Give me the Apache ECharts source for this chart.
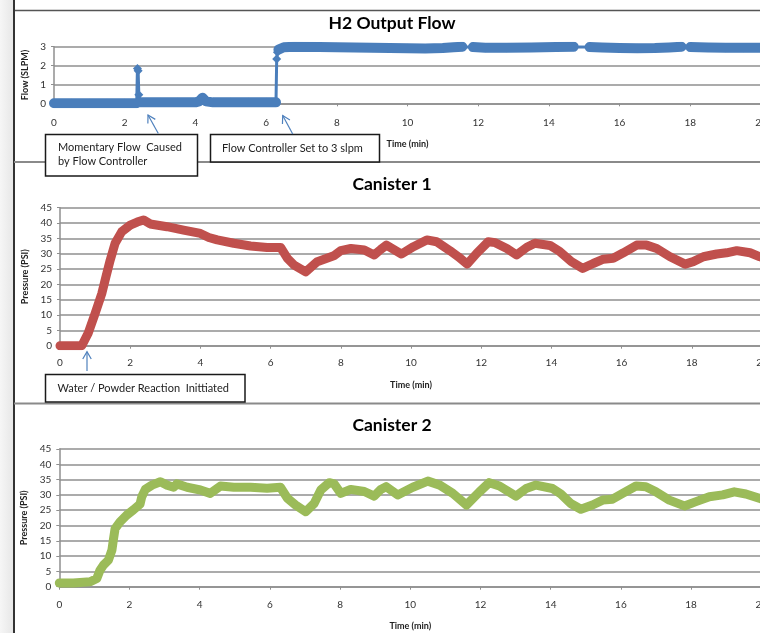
<!DOCTYPE html>
<html>
<head>
<meta charset="utf-8">
<script src="https://cdn.jsdelivr.net/npm/echarts@6/dist/echarts.min.js"></script>
<style>
html,body{margin:0;padding:0;background:#fff;}
#chart{width:760px;height:633px;}
</style>
</head>
<body>
<div id="chart"></div>
<script>
// ---------- DATA ----------
const titles = ['H2 Output Flow', 'Canister 1', 'Canister 2'];
const xTickLabels = [0, 2, 4, 6, 8, 10, 12, 14, 16, 18, 20];
const flowTicks = [0, 1, 2, 3];
const pressureTicks = [0, 5, 10, 15, 20, 25, 30, 35, 40, 45];

const flowTime = [0, 0.5, 1, 1.5, 2, 2.34, 2.36, 2.38, 2.40, 2.43,
  3, 3.5, 4, 4.1, 4.2, 4.3, 4.5,
  5, 5.5, 6, 6.28, 6.30, 6.32, 6.35, 6.5, 6.8,
  7.5, 8, 8.5, 9, 9.5, 10, 10.5, 11, 11.3, 11.55,
  11.85, 12.2, 12.8, 13.5, 14.2, 14.7,
  15.15, 15.5, 16, 16.5, 17, 17.4, 17.75,
  18.0, 18.5, 19, 19.5, 20];
const flowValue = [0, 0, 0, 0, 0, 0, 1.85, 1.72, 0.45, 0.05,
  0.05, 0.05, 0.05, 0.1, 0.3, 0.1, 0.05,
  0.05, 0.05, 0.05, 0.05, 2.35, 2.7, 2.85, 2.97, 3.0,
  2.99, 2.97, 2.96, 2.95, 2.93, 2.92, 2.9, 2.93, 2.97, 3.0,
  2.98, 2.95, 2.95, 2.96, 2.98, 3.0,
  2.98, 2.96, 2.93, 2.92, 2.93, 2.96, 3.0,
  2.98, 2.96, 2.95, 2.95, 2.95];
// time spans where the flow trace has only sparse samples (thin line)
const flowSparseSpans = [[2.35, 2.42], [6.29, 6.34], [11.56, 11.84], [14.71, 15.14], [17.76, 17.99]];

const can1Time = [0, 0.3, 0.62, 0.8, 1.0, 1.19, 1.31, 1.43, 1.57, 1.76, 2.0, 2.2, 2.38, 2.57,
  3.05, 3.52, 4.0, 4.24, 4.48, 4.95, 5.43, 5.9, 6.29, 6.48, 6.67, 7.0, 7.33, 7.8, 8.0,
  8.29, 8.67, 8.95, 9.14, 9.3, 9.73, 10.07, 10.45, 10.73, 11.11, 11.35, 11.6, 11.87,
  12.2, 12.4, 12.73, 13.01, 13.3, 13.53, 13.96, 14.24, 14.57, 14.89, 15.19, 15.48,
  15.76, 16.05, 16.43, 16.71, 17.0, 17.38, 17.81, 18.04, 18.33, 18.71, 18.99, 19.28,
  19.66, 19.94, 20];
const can1Value = [0, 0, 0, 4, 10.5, 17, 22.5, 27.9, 33.4, 37.2, 39.3, 40.3, 41, 39.7,
  38.8, 37.7, 36.6, 35.3, 34.5, 33.4, 32.5, 32, 32, 28.5, 26.3, 24.1, 27.4, 29.3, 31,
  31.7, 31.2, 29.6, 31.4, 32.8, 29.9, 32.3, 34.5, 33.9, 31, 29, 26.6, 30.1,
  33.9, 33.6, 31.7, 29.6, 32.1, 33.4, 32.7, 30.7, 27.4, 25.2, 26.8, 28.2,
  28.5, 30.3, 32.8, 32.8, 31.7, 29, 26.6, 27.4, 29, 29.9, 30.3, 31,
  30.3, 29, 28.8];

const can2Time = [0, 0.4, 0.88, 1.07, 1.16, 1.26, 1.4, 1.5, 1.54, 1.59, 1.73, 1.92, 2.11, 2.3,
  2.35, 2.45, 2.64, 2.88, 3.07, 3.26, 3.35, 3.64, 4.02, 4.3, 4.59, 4.97, 5.45, 5.92, 6.3,
  6.5, 6.73, 7.02, 7.26, 7.45, 7.69, 7.83, 8.02, 8.3, 8.69, 8.97, 9.16, 9.31, 9.64,
  10.07, 10.5, 10.84, 11.21, 11.6, 11.97, 12.25, 12.54, 13.01, 13.3, 13.58, 14.05,
  14.29, 14.57, 14.86, 15.19, 15.48, 15.76, 16.05, 16.43, 16.71, 17.0, 17.38, 17.81,
  18.14, 18.52, 18.9, 19.23, 19.56, 19.94, 20];
const can2Value = [1.2, 1.2, 1.6, 2.7, 5.4, 7.1, 8.7, 12, 15.3, 19, 21.2, 23.4, 25.1, 27,
  29.4, 31.8, 33.2, 34.3, 33.2, 32.5, 33.6, 32.5, 31.6, 30.5, 32.9, 32.5, 32.5, 32.2, 32.5,
  28.9, 26.7, 24.5, 27.2, 31.6, 34, 33.6, 30.5, 31.8, 31.1, 29.6, 31.8, 32.7, 30,
  32.5, 34.5, 33.2, 30.5, 26.7, 31, 34, 32.9, 29.6, 32.1, 33.2, 32.1,
  30.3, 27.2, 25.3, 26.7, 28.3, 28.6, 30.5, 32.9, 32.7, 31, 28.3, 26.4,
  27.8, 29.4, 30, 31, 30.3, 28.9, 28.7];

// ---------- BUILD ----------
const pairs = (t, v) => t.map((x, i) => [x, v[i]]);
function denseData(t, v, spans) {
  const items = [];
  t.forEach((x, i) => {
    if (!spans.some(s => x > s[0] && x < s[1])) items.push([x, v[i]]);
  });
  spans.forEach(s => items.push([(s[0] + s[1]) / 2, '-']));
  items.sort((a, b) => a[0] - b[0]);
  return items;
}

const FONT = 'Lato, "Open Sans", sans-serif';
const GRID_COLOR = '#8f8f8f';
const BLUE = '#4A7EBB', RED = '#C0504D', GREEN = '#9BBB59';

const grids = [
  {left: 54, top: 46.7, width: 707, height: 56.6, outerBoundsMode: 'none', containLabel: false},
  {left: 60, top: 207.7, width: 702, height: 138, outerBoundsMode: 'none', containLabel: false},
  {left: 59.3, top: 449, width: 702, height: 137.7, outerBoundsMode: 'none', containLabel: false}
];
const xNameGap = [36, 35, 35];
const yNameGap = [23, 29, 29];
const xLabelMargin = [14, 12, 13];

const xAxes = grids.map((g, i) => ({
  type: 'value', gridIndex: i, min: xTickLabels[0], max: xTickLabels[xTickLabels.length - 1],
  interval: 2,
  name: 'Time (min)', nameLocation: 'middle', nameGap: xNameGap[i],
  nameTextStyle: {fontFamily: FONT, fontSize: 9, fontWeight: 'bold', color: '#222'},
  axisLine: {show: true, onZero: false, lineStyle: {color: GRID_COLOR, width: 1.5}},
  axisTick: {show: true, length: 3, lineStyle: {color: GRID_COLOR, width: 1}},
  axisLabel: {fontFamily: FONT, fontSize: 10, color: '#333', margin: xLabelMargin[i],
    showMaxLabel: true, hideOverlap: false},
  splitLine: {show: false}
}));

const yAxes = grids.map((g, i) => {
  const ticks = i === 0 ? flowTicks : pressureTicks;
  return {
    type: 'value', gridIndex: i, min: ticks[0], max: ticks[ticks.length - 1],
    interval: ticks[1] - ticks[0],
    name: i === 0 ? 'Flow (SLPM)' : 'Pressure (PSI)', nameLocation: 'middle', nameGap: yNameGap[i],
    nameTextStyle: {fontFamily: FONT, fontSize: 9, fontWeight: 'bold', color: '#222'},
    axisLine: {show: true, lineStyle: {color: GRID_COLOR, width: 1.5}},
    axisTick: {show: true, length: 3, lineStyle: {color: GRID_COLOR, width: 1}},
    axisLabel: {fontFamily: FONT, fontSize: 10, color: '#333', margin: 8},
    splitLine: {show: true, lineStyle: {color: GRID_COLOR, width: 1.5}}
  };
});

const titleTops = [9, 170, 411];
const title = titles.map((t, i) => ({
  text: t, left: 387, top: titleTops[i], textAlign: 'center',
  textStyle: {fontFamily: FONT, fontSize: 17.5, fontWeight: 'bold', color: '#000'}
}));

const arrowStyle = {stroke: '#4F81BD', lineWidth: 1.2, fill: null};
function arrow(tip, tail) {
  const dx = tail[0] - tip[0], dy = tail[1] - tip[1];
  const ang = Math.atan2(dy, dx), L = 8.5, a = Math.PI / 6;
  const p1 = [tip[0] + L * Math.cos(ang - a), tip[1] + L * Math.sin(ang - a)];
  const p2 = [tip[0] + L * Math.cos(ang + a), tip[1] + L * Math.sin(ang + a)];
  return [
    {type: 'polyline', z: 20, shape: {points: [tail, tip]}, style: arrowStyle},
    {type: 'polyline', z: 20, shape: {points: [p1, tip, p2]}, style: arrowStyle}
  ];
}
function box(x, y, w, h, text, tx, ty) {
  return [
    {type: 'rect', z: 20, shape: {x: x, y: y, width: w, height: h},
      style: {fill: '#fff', stroke: '#1a1a1a', lineWidth: 1.5}},
    {type: 'text', z: 21, x: tx, y: ty,
      style: {text: text, fontFamily: FONT, fontSize: 11, fill: '#222', lineHeight: 13.5,
        textVerticalAlign: 'top'}}
  ];
}

const graphic = [
  {type: 'rect', z: -10, shape: {x: 0, y: 0, width: 14, height: 633},
    style: {fill: new echarts.graphic.LinearGradient(0, 0, 1, 0, [
      {offset: 0, color: '#f6f6f6'}, {offset: 1, color: '#e6e6e6'}])}},
  {type: 'line', z: 5, shape: {x1: 14, y1: 10.5, x2: 760, y2: 10.5}, style: {stroke: '#555', lineWidth: 1.5}},
  {type: 'line', z: 5, shape: {x1: 14, y1: 0, x2: 14, y2: 633}, style: {stroke: '#333', lineWidth: 2}},
  {type: 'line', z: 5, shape: {x1: 14, y1: 162, x2: 760, y2: 162}, style: {stroke: '#8a8a8a', lineWidth: 2}},
  {type: 'line', z: 5, shape: {x1: 14, y1: 403.5, x2: 760, y2: 403.5}, style: {stroke: '#8a8a8a', lineWidth: 2}},
  ...box(45.5, 134.5, 152, 41.5, 'Momentary Flow  Caused\nby Flow Controller', 58, 141),
  ...box(210.5, 134.5, 169, 27.5, 'Flow Controller Set to 3 slpm', 222, 142),
  ...box(45.5, 374.5, 199.5, 27.5, 'Water / Powder Reaction  Inittiated', 57.5, 382),
  ...arrow([148, 115], [158.3, 133.5]),
  ...arrow([282.7, 115.5], [292.7, 134]),
  ...arrow([87, 351.7], [87, 371])
];

const thickLine = (color, w) => ({color: color, width: w, cap: 'round', join: 'round'});

const series = [
  {type: 'line', xAxisIndex: 0, yAxisIndex: 0, data: pairs(flowTime, flowValue),
    symbol: 'diamond', symbolSize: 9, showSymbol: true, z: 2,
    itemStyle: {color: BLUE, borderWidth: 0},
    lineStyle: {color: BLUE, width: 3}, animation: false},
  {type: 'line', xAxisIndex: 0, yAxisIndex: 0, data: denseData(flowTime, flowValue, flowSparseSpans),
    showSymbol: false, symbol: 'none', connectNulls: false, z: 3,
    lineStyle: thickLine(BLUE, 10), animation: false},
  {type: 'line', xAxisIndex: 1, yAxisIndex: 1, data: pairs(can1Time, can1Value),
    showSymbol: false, symbol: 'none', lineStyle: thickLine(RED, 9), animation: false},
  {type: 'line', xAxisIndex: 2, yAxisIndex: 2, data: pairs(can2Time, can2Value),
    showSymbol: false, symbol: 'none', lineStyle: thickLine(GREEN, 9), animation: false}
];

const chart = echarts.init(document.getElementById('chart'), null, {renderer: 'canvas'});
chart.setOption({
  backgroundColor: '#fff',
  animation: false,
  title: title,
  grid: grids,
  xAxis: xAxes,
  yAxis: yAxes,
  series: series,
  graphic: graphic
});
</script>
</body>
</html>
